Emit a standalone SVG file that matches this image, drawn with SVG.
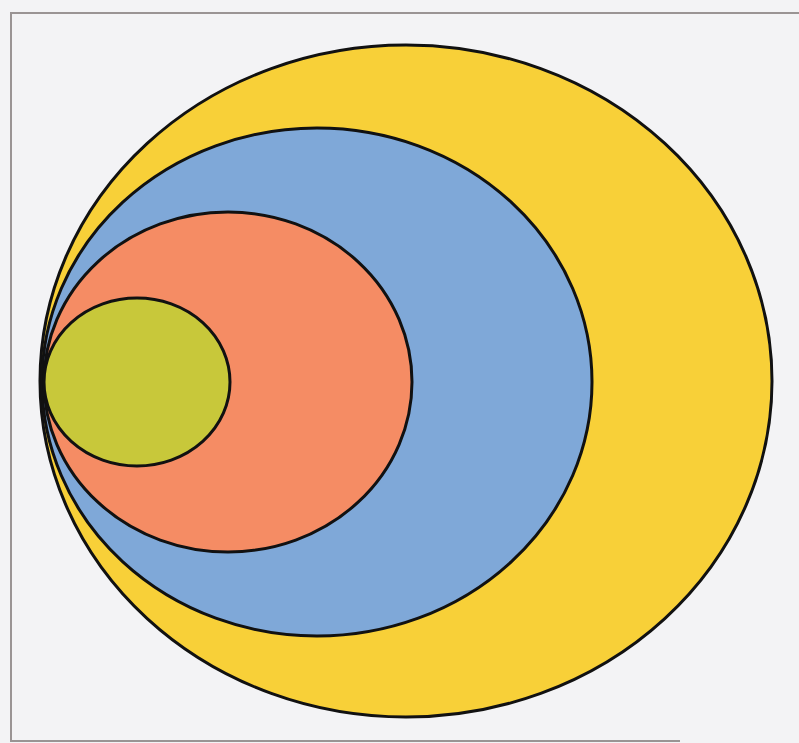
<svg xmlns="http://www.w3.org/2000/svg" width="799" height="743" viewBox="0 0 799 743">
<style>
.o{stroke:#111;stroke-width:3}
</style>
<rect width="799" height="743" fill="#f3f3f5"/>
<path d="M799 13 H11 V741 H680" fill="none" stroke="#9a9494" stroke-width="2"/>
<g id="yellow"><ellipse class="o" cx="406" cy="381" rx="366" ry="336" fill="#f8d038"/></g>
<g id="blue"><ellipse class="o" cx="317" cy="382" rx="275" ry="254" fill="#7fa8d8"/></g>
<g id="orange"><ellipse class="o" cx="228" cy="382" rx="184" ry="170" fill="#f58c64"/></g>
<g id="green"><ellipse class="o" cx="137" cy="382" rx="93" ry="84" fill="#c8c83a"/></g>
</svg>
